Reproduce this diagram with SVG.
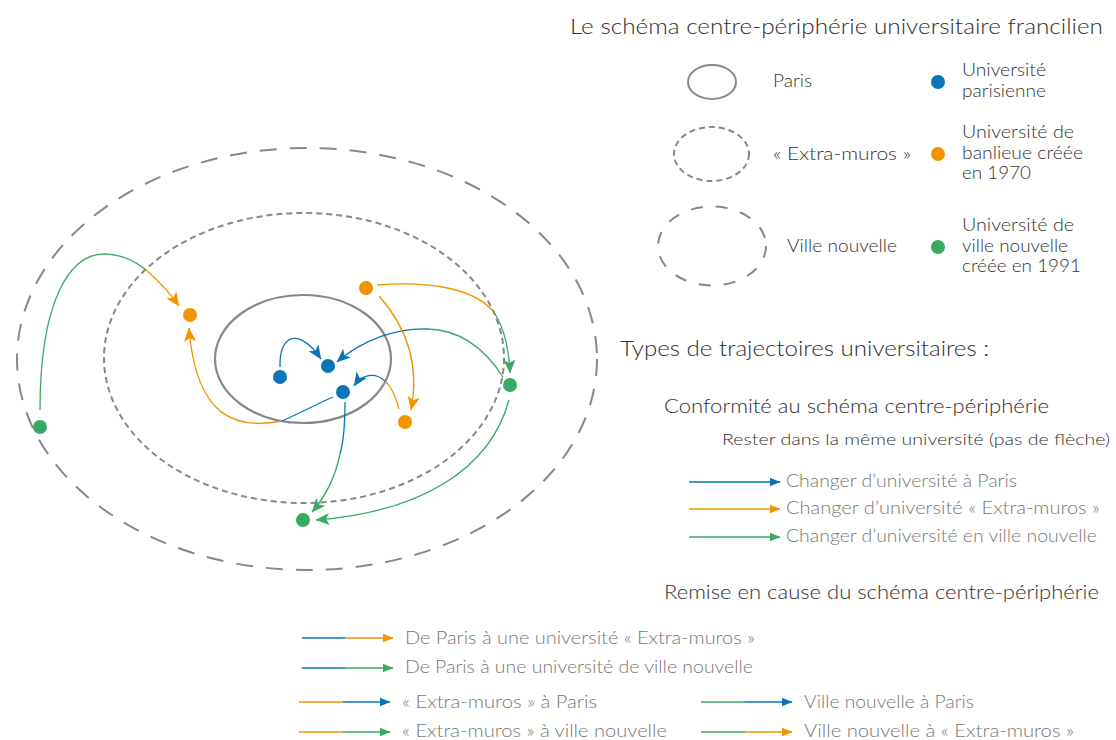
<svg xmlns="http://www.w3.org/2000/svg" width="1116" height="740" viewBox="0 0 1116 740">
<style>
text{font-family:Lato,"Open Sans","Liberation Sans",sans-serif;font-weight:300;}
.h{fill:#2e2e2e;}
.t{fill:#333;}
.l{fill:#777;}
.zone{fill:none;stroke:#888;stroke-width:2;}
.paris{stroke-width:2.2;}
.em{stroke-dasharray:6 4;}
.vn{stroke-dasharray:17 13;}
.cb{fill:none;stroke:#0a76b8;stroke-width:1.3;}
.co{fill:none;stroke:#f29400;stroke-width:1.3;}
.cg{fill:none;stroke:#3aa964;stroke-width:1.3;}
.lb{stroke:#0a76b8;stroke-width:1.6;}
.lo{stroke:#f29400;stroke-width:1.6;}
.lg{stroke:#3aa964;stroke-width:1.6;}
.db{fill:#0a76b8;}
.do{fill:#f29400;}
.dg{fill:#3aa964;}
</style>
<defs>
<marker id="ab" markerUnits="userSpaceOnUse" markerWidth="14" markerHeight="12" refX="13.5" refY="6" orient="auto"><path d="M0,0 L14,6 L0,12 L3.5,6 z" fill="#0a76b8"/></marker>
<marker id="ao" markerUnits="userSpaceOnUse" markerWidth="14" markerHeight="12" refX="13.5" refY="6" orient="auto"><path d="M0,0 L14,6 L0,12 L3.5,6 z" fill="#f29400"/></marker>
<marker id="ag" markerUnits="userSpaceOnUse" markerWidth="14" markerHeight="12" refX="13.5" refY="6" orient="auto"><path d="M0,0 L14,6 L0,12 L3.5,6 z" fill="#3aa964"/></marker>
<marker id="sb" markerUnits="userSpaceOnUse" markerWidth="11" markerHeight="10" refX="10.5" refY="5" orient="auto"><path d="M0,0.5 L11,5 L0,9.5 z" fill="#0a76b8"/></marker>
<marker id="so" markerUnits="userSpaceOnUse" markerWidth="11" markerHeight="10" refX="10.5" refY="5" orient="auto"><path d="M0,0.5 L11,5 L0,9.5 z" fill="#f29400"/></marker>
<marker id="sg" markerUnits="userSpaceOnUse" markerWidth="11" markerHeight="10" refX="10.5" refY="5" orient="auto"><path d="M0,0.5 L11,5 L0,9.5 z" fill="#3aa964"/></marker>
</defs>
<rect width="1116" height="740" fill="#fff"/>

<!-- Zones -->
<g id="zone-ville-nouvelle"><ellipse class="zone vn" cx="307" cy="359" rx="290" ry="211"/></g>
<g id="zone-extra-muros"><ellipse class="zone em" cx="304" cy="358" rx="200" ry="145"/></g>
<g id="zone-paris"><ellipse class="zone paris" cx="303" cy="359" rx="88" ry="64"/></g>

<!-- Connectors -->
<g id="connectors">
<!-- blue to blue -->
<path class="cb" d="M280,367 C279,333 300,328 321,359" marker-end="url(#ab)"/>
<!-- green to blue -->
<path class="cg" d="M503,377 C485,349 460,330 428,329"/>
<path class="cb" d="M428,329 C396,328 362,340 337,362" marker-end="url(#ab)"/>
<!-- orange to blue -->
<path class="co" d="M399,409 C395,394 391,386 385,381"/>
<path class="cb" d="M385,381 C375,372 362,374 354,386" marker-end="url(#ab)"/>
<!-- blue to orange -->
<path class="cb" d="M333,397 C315,405 298,414 282,421"/>
<path class="co" d="M282,421 C236,430 196,418 189,328" marker-end="url(#ao)"/>
<!-- blue to green -->
<path class="cb" d="M345,402 C345,425 344,440 340,454"/>
<path class="cg" d="M340,454 C335,478 326,496 312,512" marker-end="url(#ag)"/>
<!-- green to orange -->
<path class="cg" d="M40,410 C40,300 70,254 104,254 C120,254 135,261 146,270"/>
<path class="co" d="M146,270 C160,282 170,293 179,306" marker-end="url(#ao)"/>
<!-- orange to green -->
<path class="co" d="M377,285 C425,281 472,287 493,311"/>
<path class="cg" d="M493,311 C505,328 509,350 510,373" marker-end="url(#ag)"/>
<!-- orange to orange -->
<path class="co" d="M379,296 C402,322 421,360 411,410" marker-end="url(#ao)"/>
<!-- green to green -->
<path class="cg" d="M509,400 C490,470 420,512 316,520" marker-end="url(#ag)"/>
</g>

<!-- Universities -->
<g id="u-paris-1"><circle class="db" cx="280" cy="377" r="7"/></g>
<g id="u-paris-2"><circle class="db" cx="328" cy="366" r="7"/></g>
<g id="u-paris-3"><circle class="db" cx="343" cy="392" r="7"/></g>
<g id="u-banlieue-1"><circle class="do" cx="190" cy="315" r="7"/></g>
<g id="u-banlieue-2"><circle class="do" cx="366" cy="288" r="7"/></g>
<g id="u-banlieue-3"><circle class="do" cx="405" cy="422" r="7"/></g>
<g id="u-vn-1"><circle class="dg" cx="40" cy="427" r="7"/></g>
<g id="u-vn-2"><circle class="dg" cx="510" cy="385" r="7"/></g>
<g id="u-vn-3"><circle class="dg" cx="303" cy="520" r="7"/></g>

<!-- Legend -->
<g id="legend-title"><text class="h" x="570" y="34" font-size="22" textLength="533" lengthAdjust="spacingAndGlyphs">Le schéma centre-périphérie universitaire francilien</text></g>

<g id="legend-paris">
<ellipse class="zone" cx="712" cy="82" rx="24" ry="17"/>
<text class="t" x="773" y="87" font-size="17" textLength="39" lengthAdjust="spacingAndGlyphs">Paris</text>
</g>
<g id="legend-extra-muros">
<ellipse class="zone em" cx="711.5" cy="154" rx="37.5" ry="27"/>
<text class="t" x="773" y="160" font-size="17" textLength="138" lengthAdjust="spacingAndGlyphs">« Extra-muros »</text>
</g>
<g id="legend-ville-nouvelle">
<ellipse class="zone" stroke-dasharray="12 13" cx="712" cy="246" rx="54" ry="39.5"/>
<text class="t" x="787" y="252" font-size="17" textLength="110" lengthAdjust="spacingAndGlyphs">Ville nouvelle</text>
</g>

<g id="legend-u-paris">
<circle class="db" cx="938" cy="82" r="7"/>
<text class="t" x="962" y="76" font-size="17" textLength="84" lengthAdjust="spacingAndGlyphs">Université</text>
<text class="t" x="962" y="97" font-size="17" textLength="84" lengthAdjust="spacingAndGlyphs">parisienne</text>
</g>
<g id="legend-u-banlieue">
<circle class="do" cx="938" cy="154" r="7"/>
<text class="t" x="962" y="138" font-size="17" textLength="112" lengthAdjust="spacingAndGlyphs">Université de</text>
<text class="t" x="962" y="159" font-size="17" textLength="121" lengthAdjust="spacingAndGlyphs">banlieue créée</text>
<text class="t" x="962" y="179" font-size="17" textLength="69" lengthAdjust="spacingAndGlyphs">en 1970</text>
</g>
<g id="legend-u-vn">
<circle class="dg" cx="938" cy="247" r="7"/>
<text class="t" x="962" y="231" font-size="17" textLength="112" lengthAdjust="spacingAndGlyphs">Université de</text>
<text class="t" x="962" y="252" font-size="17" textLength="106" lengthAdjust="spacingAndGlyphs">ville nouvelle</text>
<text class="t" x="962" y="272" font-size="17" textLength="119" lengthAdjust="spacingAndGlyphs">créée en 1991</text>
</g>

<g id="legend-types">
<text class="h" x="620" y="356" font-size="21" textLength="369" lengthAdjust="spacingAndGlyphs">Types de trajectoires universitaires :</text>
<text class="h" x="664" y="413" font-size="19" textLength="385" lengthAdjust="spacingAndGlyphs">Conformité au schéma centre-périphérie</text>
<text class="t" x="722" y="445" font-size="16" textLength="388" lengthAdjust="spacingAndGlyphs">Rester dans la même université (pas de flèche)</text>
</g>

<g id="legend-conformite">
<line class="lb" x1="689" y1="482" x2="780" y2="482" marker-end="url(#sb)"/>
<text class="l" x="786" y="487" font-size="17" textLength="231" lengthAdjust="spacingAndGlyphs">Changer d’université à Paris</text>
<line class="lo" x1="689" y1="509" x2="780" y2="509" marker-end="url(#so)"/>
<text class="l" x="786" y="514" font-size="17" textLength="314" lengthAdjust="spacingAndGlyphs">Changer d’université « Extra-muros »</text>
<line class="lg" x1="689" y1="537" x2="780" y2="537" marker-end="url(#sg)"/>
<text class="l" x="786" y="542" font-size="17" textLength="311" lengthAdjust="spacingAndGlyphs">Changer d’université en ville nouvelle</text>
</g>

<g id="legend-remise">
<text class="h" x="664" y="599" font-size="19" textLength="435" lengthAdjust="spacingAndGlyphs">Remise en cause du schéma centre-périphérie</text>
</g>

<g id="legend-remise-items">
<line class="lb" x1="302" y1="638" x2="345" y2="638"/>
<line class="lo" x1="345" y1="638" x2="393" y2="638" marker-end="url(#so)"/>
<text class="l" x="405" y="644" font-size="17" textLength="350" lengthAdjust="spacingAndGlyphs">De Paris à une université « Extra-muros »</text>

<line class="lb" x1="302" y1="668" x2="345" y2="668"/>
<line class="lg" x1="345" y1="668" x2="393" y2="668" marker-end="url(#sg)"/>
<text class="l" x="405" y="673" font-size="17" textLength="348" lengthAdjust="spacingAndGlyphs">De Paris à une université de ville nouvelle</text>

<line class="lo" x1="299" y1="702" x2="343" y2="702"/>
<line class="lb" x1="343" y1="702" x2="390" y2="702" marker-end="url(#sb)"/>
<text class="l" x="402" y="708" font-size="17" textLength="195" lengthAdjust="spacingAndGlyphs">« Extra-muros » à Paris</text>

<line class="lo" x1="299" y1="732" x2="343" y2="732"/>
<line class="lg" x1="343" y1="732" x2="390" y2="732" marker-end="url(#sg)"/>
<text class="l" x="402" y="737" font-size="17" textLength="265" lengthAdjust="spacingAndGlyphs">« Extra-muros » à ville nouvelle</text>

<line class="lg" x1="701" y1="702" x2="745" y2="702"/>
<line class="lb" x1="745" y1="702" x2="792" y2="702" marker-end="url(#sb)"/>
<text class="l" x="804" y="708" font-size="17" textLength="170" lengthAdjust="spacingAndGlyphs">Ville nouvelle à Paris</text>

<line class="lg" x1="701" y1="732" x2="745" y2="732"/>
<line class="lo" x1="745" y1="732" x2="792" y2="732" marker-end="url(#so)"/>
<text class="l" x="804" y="737" font-size="17" textLength="270" lengthAdjust="spacingAndGlyphs">Ville nouvelle à « Extra-muros »</text>
</g>
</svg>
